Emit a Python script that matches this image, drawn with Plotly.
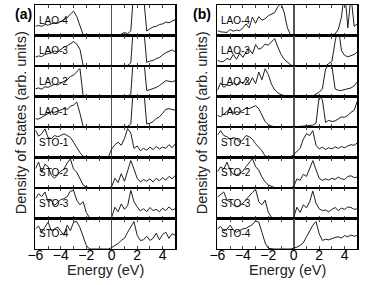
import plotly.graph_objects as go

# ---------------- data (DOS, arb. units, 0..1 per row; >1 = clipped peak) ----------------
energy = [-6.0, -5.75, -5.5, -5.25, -5.0, -4.75, -4.5, -4.25, -4.0, -3.75,
          -3.5, -3.25, -3.0, -2.75, -2.5, -2.25, -2.0, -1.75, -1.5, -1.25,
          -1.0, -0.75, -0.5, -0.25, 0.0, 0.25, 0.5, 0.75, 1.0, 1.25,
          1.5, 1.75, 2.0, 2.25, 2.5, 2.75, 3.0, 3.25, 3.5, 3.75,
          4.0, 4.25, 4.5, 4.75, 5.0]

layer_names = ["LAO-4", "LAO-3", "LAO-2", "LAO-1", "STO-1", "STO-2", "STO-3", "STO-4"]
panel_labels = ["(a)", "(b)"]
x_title = "Energy (eV)"
y_title = "Density of States (arb. units)"

# panel (a)
a_lao4 = [0.30, 0.33, 0.30, 0.36, 0.34, 0.38, 0.42, 0.40, 0.46, 0.50,
          0.58, 0.70, 0.80, 0.62, 0.35, 0.03, 0, 0, 0, 0,
          0, 0, 0, 0, 0, 0, 0, 0.04, 0.10, 0.06,
          0.15, 1.6, 1.6, 1.6, 1.3, 0.15, 0.22, 0.28, 0.30, 0.36,
          0.38, 0.44, 0.42, 0.48, 0.52]
a_lao3 = [0.29, 0.33, 0.31, 0.38, 0.40, 0.45, 0.49, 0.47, 0.56, 0.62,
          0.66, 0.74, 0.80, 0.72, 0.55, 0.02, 0, 0, 0, 0,
          0, 0, 0, 0, 0, 0, 0, 0, 0, 0.02,
          0.10, 1.6, 1.6, 1.6, 1.3, 0.12, 0.16, 0.18, 0.24, 0.28,
          0.36, 0.44, 0.48, 0.53, 0.46]
a_lao2 = [0.25, 0.28, 0.24, 0.32, 0.30, 0.36, 0.40, 0.38, 0.45, 0.50,
          0.55, 0.66, 0.70, 0.80, 0.92, 0.02, 0, 0, 0, 0,
          0, 0, 0, 0, 0, 0, 0, 0, 0, 0.02,
          0.08, 1.6, 1.6, 1.6, 1.3, 0.20, 0.22, 0.25, 0.30, 0.36,
          0.45, 0.52, 0.50, 0.48, 0.52]
a_lao1 = [0.27, 0.26, 0.32, 0.38, 0.45, 0.50, 0.48, 0.52, 0.56, 0.60,
          0.58, 0.68, 0.72, 0.82, 0.45, 0.02, 0, 0, 0, 0,
          0, 0, 0, 0, 0, 0, 0, 0, 0, 0.02,
          0.10, 1.6, 1.6, 1.6, 1.3, 0.10, 0.12, 0.18, 0.28, 0.33,
          0.45, 0.58, 0.60, 0.58, 0.55]
a_sto1 = [0.90, 0.70, 0.78, 0.94, 0.65, 0.62, 0.72, 0.68, 0.72, 0.78,
          0.72, 0.66, 0.50, 0.32, 0.16, 0.04, 0.01, 0, 0, 0,
          0, 0, 0, 0.03, 0.28, 0.42, 0.50, 0.40, 0.62, 0.95,
          0.80, 0.30, 0.38, 0.22, 0.30, 0.24, 0.34, 0.26, 0.36, 0.28,
          0.34, 0.30, 0.42, 0.32, 0.45]
a_sto2 = [0.63, 0.85, 0.52, 0.78, 0.70, 0.42, 0.32, 0.45, 0.55, 0.62,
          0.82, 0.95, 0.62, 0.52, 0.30, 0.10, 0.03, 0.01, 0, 0,
          0, 0, 0, 0, 0.05, 0.32, 0.18, 0.47, 0.22, 0.55,
          0.90, 0.62, 0.32, 0.20, 0.28, 0.22, 0.30, 0.20, 0.32, 0.24,
          0.34, 0.26, 0.38, 0.30, 0.42]
a_sto3 = [0.65, 0.81, 0.72, 0.87, 0.55, 0.60, 0.43, 0.52, 0.62, 0.65,
          0.72, 0.90, 0.92, 0.60, 0.45, 0.55, 0.20, 0.03, 0, 0,
          0, 0, 0, 0, 0.05, 0.37, 0.22, 0.48, 0.30, 0.42,
          0.92, 0.55, 0.38, 0.25, 0.32, 0.22, 0.36, 0.26, 0.30, 0.22,
          0.34, 0.26, 0.38, 0.28, 0.32]
a_sto4 = [0.66, 0.75, 0.55, 0.70, 0.88, 0.60, 0.66, 0.72, 0.58, 0.45,
          0.78, 0.60, 0.88, 0.90, 0.70, 0.40, 0.12, 0, 0, 0,
          0, 0, 0, 0, 0.05, 0.12, 0.18, 0.28, 0.35, 0.55,
          0.75, 0.90, 0.45, 0.28, 0.30, 0.42, 0.28, 0.35, 0.52, 0.30,
          0.48, 0.55, 0.35, 0.50, 0.45]

# panel (b)
b_lao4 = [0.16, 0.12, 0.11, 0.10, 0.20, 0.14, 0.18, 0.16, 0.25, 0.38,
          0.25, 0.60, 0.40, 0.62, 0.50, 0.55, 0.65, 0.71, 0.75, 0.95,
          1.05, 0.75, 0.25, 0.02, 0, 0, 0, 0, 0, 0,
          0, 0, 0, 0, 0, 0, 0.02, 0.05, 0.20, 0.60,
          1.5, 0.25, 1.3, 0.30, 0.38]
b_lao3 = [0.19, 0.14, 0.15, 0.25, 0.20, 0.38, 0.22, 0.42, 0.28, 0.45,
          0.55, 0.40, 0.70, 0.55, 0.60, 0.72, 0.68, 0.80, 0.90, 0.62,
          0.38, 0.22, 0.12, 0.04, 0, 0, 0, 0, 0, 0,
          0, 0, 0, 0, 0, 0.08, 0.15, 0.80, 1.3, 0.50,
          0.35, 0.30, 0.34, 0.38, 0.46]
b_lao2 = [0.20, 0.45, 0.30, 0.38, 0.35, 0.45, 0.36, 0.50, 0.42, 0.58,
          0.40, 0.62, 0.42, 0.80, 0.55, 0.91, 0.72, 0.40, 0.22, 0.12,
          0.06, 0.02, 0, 0, 0, 0, 0, 0, 0, 0,
          0.02, 0.08, 0.14, 0.25, 0.90, 1.05, 1.0, 0.25, 0.20, 0.20,
          0.22, 0.25, 0.28, 0.35, 0.48]
b_lao1 = [0.38, 0.34, 0.42, 0.52, 0.60, 0.45, 0.50, 0.48, 0.56, 0.62,
          0.60, 0.66, 0.70, 0.60, 0.40, 0.18, 0.08, 0.03, 0.01, 0,
          0, 0, 0, 0, 0, 0, 0.02, 0.03, 0.04, 0.05,
          0.06, 0.12, 1.0, 0.9, 0.15, 0.22, 0.18, 0.20, 0.28, 0.33,
          0.32, 0.38, 0.48, 0.55, 0.85]
b_sto1 = [0.73, 0.88, 0.72, 0.68, 0.60, 0.65, 0.62, 0.50, 0.58, 0.72,
          0.68, 0.60, 0.45, 0.32, 0.22, 0.05, 0.01, 0, 0, 0,
          0, 0, 0, 0.02, 0.10, 0.20, 0.30, 0.60, 0.78, 0.72,
          0.88, 0.40, 0.28, 0.34, 0.26, 0.32, 0.28, 0.35, 0.30, 0.36,
          0.32, 0.38, 0.42, 0.40, 0.48]
b_sto2 = [0.53, 0.69, 0.62, 0.85, 0.58, 0.45, 0.42, 0.48, 0.55, 0.70,
          0.85, 0.96, 0.70, 0.58, 0.36, 0.20, 0.10, 0.05, 0.01, 0,
          0, 0, 0, 0, 0.06, 0.30, 0.25, 0.45, 0.38, 0.62,
          0.90, 0.60, 0.32, 0.25, 0.30, 0.26, 0.32, 0.28, 0.36, 0.30,
          0.28, 0.38, 0.40, 0.34, 0.36]
b_sto3 = [0.70, 0.80, 0.87, 0.60, 0.55, 0.45, 0.38, 0.42, 0.50, 0.62,
          0.75, 0.85, 0.96, 0.55, 0.45, 0.60, 0.20, 0.04, 0, 0,
          0, 0, 0, 0, 0.05, 0.37, 0.20, 0.45, 0.35, 0.55,
          0.90, 0.50, 0.32, 0.26, 0.28, 0.22, 0.30, 0.36, 0.26, 0.34,
          0.30, 0.38, 0.36, 0.30, 0.32]
b_sto4 = [0.66, 0.74, 0.60, 0.65, 0.78, 0.62, 0.55, 0.60, 0.66, 0.68,
          0.75, 0.80, 0.92, 0.88, 0.55, 0.20, 0.02, 0, 0, 0,
          0, 0, 0, 0, 0.03, 0.06, 0.12, 0.20, 0.40, 0.58,
          0.78, 0.90, 0.50, 0.28, 0.32, 0.30, 0.35, 0.38, 0.40, 0.36,
          0.44, 0.40, 0.46, 0.42, 0.44]

panel_a = [a_lao4, a_lao3, a_lao2, a_lao1, a_sto1, a_sto2, a_sto3, a_sto4]
panel_b = [b_lao4, b_lao3, b_lao2, b_lao1, b_sto1, b_sto2, b_sto3, b_sto4]

# ---------------- layout ----------------
W, H = 374, 285
TOP, BOTTOM = 5, 249
N = len(layer_names)
ROW_H = (BOTTOM - TOP) / N
FONT = "Liberation Sans, Arial, sans-serif"

panels = [(panel_a, 28, 171, 13, 16), (panel_b, 214, 357, 198, 198)]

fig = go.Figure()
layout = {}
annotations = []
k = 0
for p, (series, x0, x1, ytitle_x, plabel_x) in enumerate(panels):
    for r in range(N):
        k += 1
        sx = "" if k == 1 else str(k)
        top = TOP + ROW_H * r
        bot = top + ROW_H
        fig.add_trace(go.Scatter(
            x=energy, y=series[r], xaxis="x" + sx, yaxis="y" + sx,
            mode="lines", line=dict(color="#1e1e1e", width=1),
            showlegend=False, hoverinfo="skip"))
        layout["xaxis" + sx] = dict(
            domain=[x0 / W, x1 / W], range=[-6, 5], anchor="y" + sx,
            showline=True, mirror="ticks", linecolor="black", linewidth=1.3,
            ticks="inside", tickmode="linear", tick0=-6, dtick=2, ticklen=3,
            tickcolor="#444", tickwidth=1,
            minor=dict(ticks="inside", dtick=1, tick0=0, ticklen=3,
                       tickcolor="#444", tickwidth=1),
            showticklabels=(r == N - 1), ticklabelstandoff=-7,
            tickfont=dict(family=FONT, size=14, color="black"),
            showgrid=False, zeroline=True, zerolinecolor="#555", zerolinewidth=1.5,
        )
        layout["yaxis" + sx] = dict(
            domain=[1 - bot / H, 1 - top / H], range=[0, 1], anchor="x" + sx,
            showline=True, mirror=True, linecolor="black", linewidth=1.3,
            ticks="", showticklabels=False, showgrid=False, zeroline=False,
        )
        annotations.append(dict(
            xref="x" + sx, yref="y" + sx, x=-5.9, y=0.5, text=layer_names[r],
            showarrow=False, xanchor="left", yanchor="middle",
            font=dict(family=FONT, size=10, color="black")))
    annotations.append(dict(
        xref="paper", yref="paper", x=plabel_x / W, y=1 - 14 / H,
        text="<b>" + panel_labels[p] + "</b>", showarrow=False,
        xanchor="center", yanchor="middle", font=dict(family=FONT, size=14, color="black")))
    annotations.append(dict(
        xref="paper", yref="paper", x=ytitle_x / W, y=1 - 122.5 / H,
        text=y_title, textangle=-90, showarrow=False,
        xanchor="center", yanchor="middle", font=dict(family=FONT, size=14.5, color="#222")))
    annotations.append(dict(
        xref="paper", yref="paper", x=((x0 + x1) / 2) / W, y=1 - 270 / H,
        text=x_title, showarrow=False,
        xanchor="center", yanchor="middle", font=dict(family=FONT, size=14.5, color="#222")))

fig.update_layout(
    width=W, height=H, margin=dict(l=0, r=0, t=0, b=0),
    paper_bgcolor="white", plot_bgcolor="white",
    annotations=annotations, **layout)

fig.write_html("out.html", config={"displayModeBar": False, "staticPlot": True},
               post_script="document.body.style.margin='0';document.body.style.overflow='hidden';")
